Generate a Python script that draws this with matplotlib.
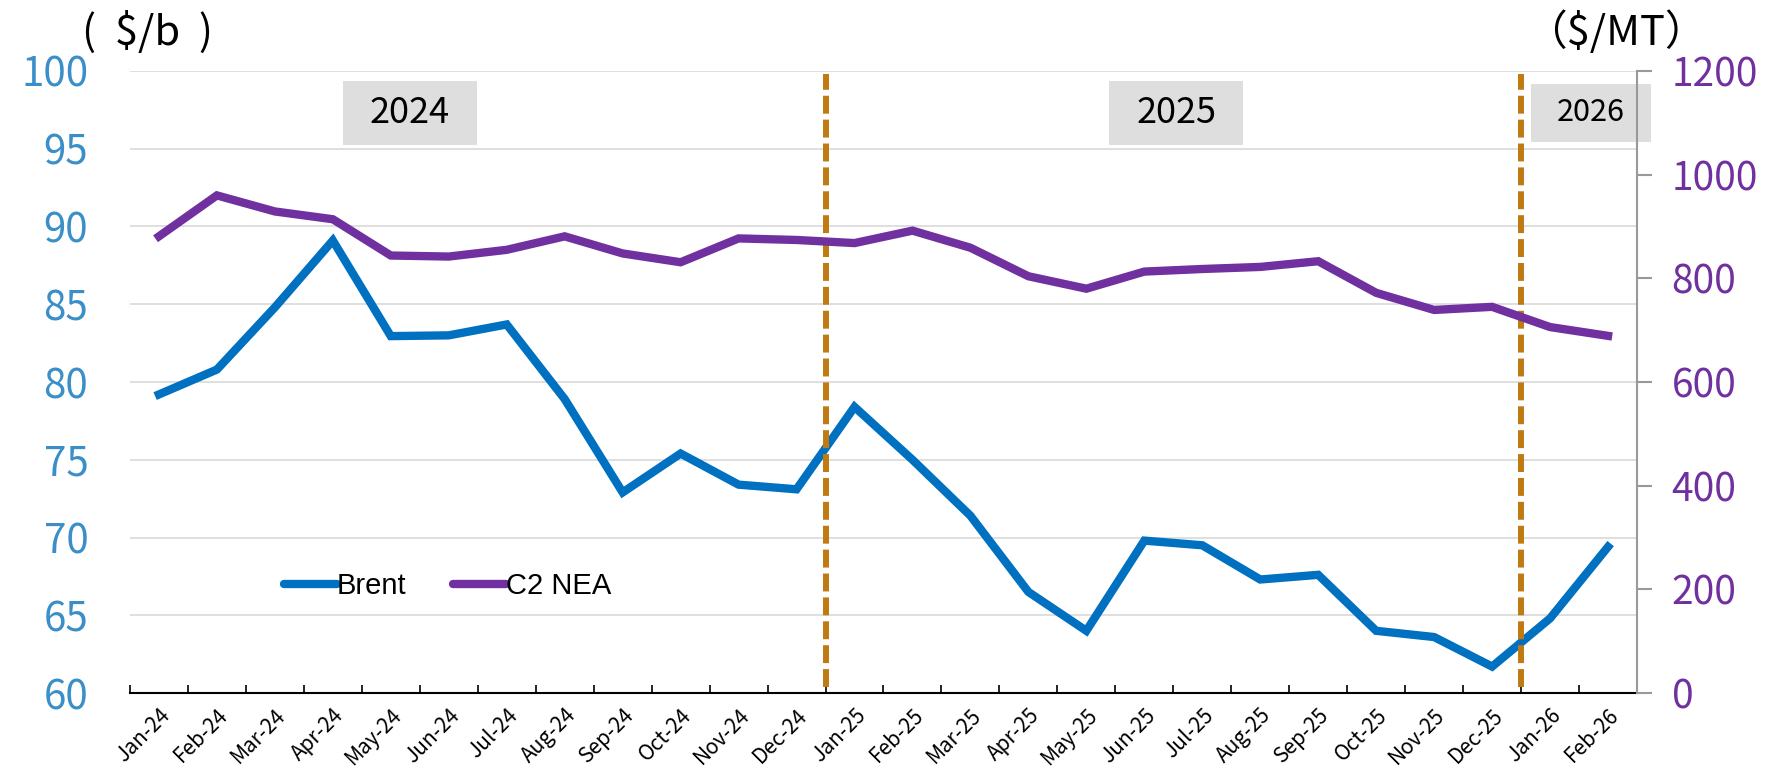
import numpy as np
import matplotlib.pyplot as plt
from matplotlib.patches import Rectangle

plt.rcParams['font.family'] = ['Noto Sans CJK TC', 'DejaVu Sans']

# months on the x axis
months = ['Jan-24', 'Feb-24', 'Mar-24', 'Apr-24', 'May-24', 'Jun-24', 'Jul-24',
          'Aug-24', 'Sep-24', 'Oct-24', 'Nov-24', 'Dec-24', 'Jan-25', 'Feb-25',
          'Mar-25', 'Apr-25', 'May-25', 'Jun-25', 'Jul-25', 'Aug-25', 'Sep-25',
          'Oct-25', 'Nov-25', 'Dec-25', 'Jan-26', 'Feb-26']

# Brent, $/b (left axis)
brent = [79.2, 80.8, 84.8, 89.1, 82.95, 83.0, 83.7, 78.9, 72.9, 75.4, 73.4, 73.1,
         78.4, 75.0, 71.4, 66.5, 64.0, 69.8, 69.5, 67.3, 67.6, 64.0, 63.6, 61.7,
         64.8, 69.4]

# C2 NEA, $/MT (right axis)
c2_nea = [881, 960, 929, 914, 844, 842, 855, 881, 848, 831, 877, 874,
          868, 892, 859, 804, 780, 813, 818, 822, 833, 772, 739, 745,
          706, 689]

years = ['2024', '2025', '2026']
year_dividers = [11.5, 23.5]
year_box_x = [4.33, 17.55, 24.7]

blue = '#0070C0'
purple = '#7030A0'
gold = '#C07A12'

fig = plt.figure(figsize=(17.73, 7.69), dpi=100)
ax = fig.add_axes([0.0733, 0.0988, 0.85, 0.8089])
ax2 = ax.twinx()

x = np.arange(len(months))
ax.plot(x, brent, color=blue, lw=6, solid_joinstyle='miter', label='Brent', zorder=3)
ax2.plot(x, c2_nea, color=purple, lw=6, solid_joinstyle='miter', label='C2 NEA', zorder=3)

ax.set_xlim(-0.5, len(months) - 0.5)
ax.set_ylim(60, 100)
ax2.set_ylim(0, 1200)

ax.set_yticks(np.arange(60, 101, 5))
ax.yaxis.grid(True, color='#D9D9D9', lw=1.2)
ax.set_axisbelow(True)
ax.tick_params(axis='y', length=0, pad=30, labelsize=29, labelcolor='#3A8FC8')

ax2.set_yticks(np.arange(0, 1201, 200))
ax2.tick_params(axis='y', direction='out', length=11, width=1.5, color='#999999',
                pad=14, labelsize=28, labelcolor=purple)

# category ticks on the boundaries, labels at the centres
ax.set_xticks(np.arange(-0.5, len(months)), minor=False)
ax.set_xticklabels([])
ax.set_xticks(x, minor=True)
ax.set_xticklabels(months, minor=True, rotation=45, ha='right', rotation_mode='anchor',
                   fontsize=15)
ax.tick_params(axis='x', which='major', direction='in', length=6, width=1.2, color='black')
ax.tick_params(axis='x', which='minor', length=0, pad=8)

for a in (ax, ax2):
    for side in ('top', 'left', 'right', 'bottom'):
        a.spines[side].set_visible(False)
ax2.spines['right'].set_visible(True)
ax2.spines['right'].set_color('#999999')
ax2.spines['right'].set_linewidth(1.5)
ax.spines['bottom'].set_visible(True)
ax.spines['bottom'].set_linewidth(1.5)

# year dividers
for d in year_dividers:
    ax.axvline(d, ymin=0.01, ymax=0.995, color=gold, lw=4.3, ls=(0, (3, 1)), zorder=4,
               clip_on=False)

# year boxes (grey label boxes)
for yr, bx, fs, bw, bh in zip(years, year_box_x, [26, 26, 22], [2.32, 2.32, 2.07],
                              [4.08, 4.08, 3.7]):
    ax.add_patch(Rectangle((bx - bw / 2, 97.3 - bh / 2), bw, bh, fc='#DEDEDE',
                           ec='none', zorder=4.5, clip_on=False))
    ax.text(bx, 97.3, yr, fontsize=fs, ha='center', va='center', zorder=5)

# axis unit labels
fig.text(0.046, 0.958, '(  $/b  )', fontsize=30, ha='left', va='center')
fig.text(0.860, 0.958, '（$/MT）', fontsize=30, ha='left', va='center')

h1, l1 = ax.get_legend_handles_labels()
h2, l2 = ax2.get_legend_handles_labels()
leg = ax.legend(h1 + h2, l1 + l2, loc='center left', bbox_to_anchor=(0.085, 0.172),
                ncol=2, frameon=False, handlelength=1.8, handletextpad=0.0,
                columnspacing=1.6, prop={'family': 'Liberation Sans', 'size': 21})
for line in leg.get_lines():
    line.set_linewidth(6)
    line.set_solid_capstyle('round')

fig.savefig('out.png', dpi=100)
